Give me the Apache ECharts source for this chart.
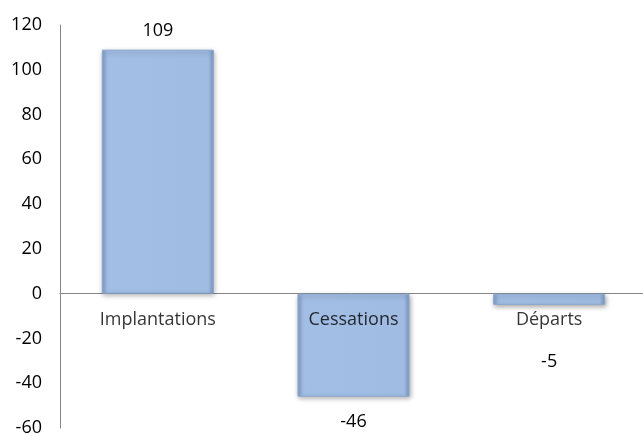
<!DOCTYPE html>
<html><head><meta charset="utf-8">
<script src="https://cdn.jsdelivr.net/npm/echarts@6/dist/echarts.min.js"></script>
<style>html,body{margin:0;padding:0;background:#fff}#c{width:643px;height:436px}</style>
</head><body><div id="c"></div>
<script>
const categories = ['Implantations', 'Cessations', 'Départs'];
const values = [109, -46, -5];
const labelOffsets = [0, 6, 38];
const yTicks = { min: -60, max: 120, interval: 20 };

const chart = echarts.init(document.getElementById('c'));
const font = '"Open Sans", "Noto Sans", sans-serif';
chart.setOption({
  animation: false,
  grid: { left: 60, right: -4, top: 25, bottom: 8, containLabel: false, outerBoundsMode: 'none' },
  xAxis: {
    type: 'category', data: categories,
    axisLine: { onZero: true, lineStyle: { color: '#868686', width: 1 } },
    axisTick: { show: false },
    axisLabel: { show: false }
  },
  yAxis: {
    type: 'value', min: yTicks.min, max: yTicks.max, interval: yTicks.interval,
    axisLine: { show: true, lineStyle: { color: '#868686', width: 1 } },
    axisTick: { show: false },
    splitLine: { show: false },
    axisLabel: { color: '#000', fontSize: 18, fontFamily: font, margin: 18 }
  },
  series: [{
    type: 'bar', barWidth: 112,
    data: values.map((v, i) => ({
      value: v,
      label: { offset: [0, v < 0 ? labelOffsets[i] : 0] }
    })),
    label: {
      show: true, color: '#000', fontSize: 18, fontFamily: font,
      position: 'outside', distance: 10,
      formatter: p => String(p.value)
    },
    itemStyle: {
      color: new echarts.graphic.LinearGradient(0, 0, 1, 0, [
        { offset: 0, color: '#7f9dca' },
        { offset: 0.05, color: '#a2bee4' },
        { offset: 0.95, color: '#a0bce2' },
        { offset: 1, color: '#7a98c4' }
      ]),
      borderColor: '#8aa7d0', borderWidth: 1,
      shadowColor: 'rgba(0,0,0,0.35)', shadowBlur: 5, shadowOffsetX: 1, shadowOffsetY: 2
    }
  }, {
    type: 'scatter', symbolSize: 0, silent: true, z: 5,
    data: categories.map(() => 0),
    label: {
      show: true, position: 'bottom', distance: 17,
      color: '#000', fontSize: 18, fontFamily: font,
      formatter: p => categories[p.dataIndex]
    }
  }]
});
</script></body></html>
